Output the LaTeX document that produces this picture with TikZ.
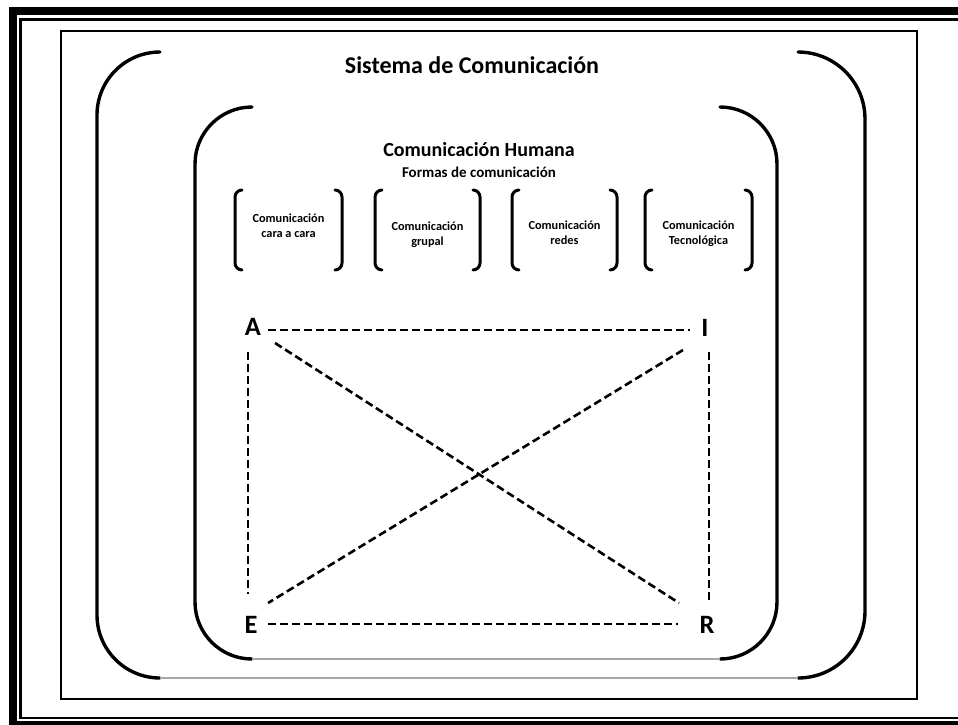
\documentclass[tikz,border=0pt]{standalone}
\usepackage{fontspec}
\setmainfont{Carlito}
\usetikzlibrary{calc}
\begin{document}
\begin{tikzpicture}[x=1pt,y=-1pt,
  frame/.style={line width=8pt},
  thinframe/.style={line width=2.5pt},
  bigbrk/.style={line width=3.4pt, line cap=round, rounded corners=60pt},
  smallbrk/.style={line width=3pt, line cap=round, rounded corners=7pt},
  baseline line/.style={line width=1.2pt, draw=black!35},
  dashline/.style={line width=2.6pt, dash pattern=on 8pt off 4pt},
  boxtext/.style={font=\fontsize{12.3}{15}\selectfont\bfseries, align=center, inner sep=0pt},
  letter/.style={font=\fontsize{26.5}{30}\selectfont\bfseries, inner sep=0pt}]
\useasboundingbox (0,0) rectangle (958,724);
\clip (0,0) rectangle (958,724);
% page frame
\draw[frame] (1100,11) -- (13,11) -- (13,725) -- (1100,725);
\draw[thinframe] (1100,19.5) -- (20.7,19.5) -- (20.7,718) -- (1100,718);
\draw[line width=2pt] (61,31) rectangle (917,699);
% outer bracket shape
\draw[bigbrk, rounded corners=63pt] (160,52) -- (97,52) -- (97,678) -- (160,678);
\draw[bigbrk, rounded corners=67pt] (798,52) -- (865,52) -- (865,678) -- (798,678);
\draw[baseline line] (160,678) -- (798,678);
% inner bracket shape
\draw[bigbrk, rounded corners=57pt] (252,107) -- (195,107) -- (195,659) -- (252,659);
\draw[bigbrk, rounded corners=57pt] (720,107) -- (777,107) -- (777,659) -- (720,659);
\draw[baseline line] (252,659) -- (720,659);
% titles
\node[anchor=base, font=\fontsize{24}{28}\selectfont\bfseries] (sis) at (472,73) {Sistema de Comunicación};
\node[anchor=base, font=\fontsize{20}{24}\selectfont\bfseries] (hum) at (479,156) {Comunicación Humana};
\node[anchor=base, font=\fontsize{15}{18}\selectfont\bfseries] (for) at (479,177) {Formas de comunicación};
% small bracket boxes
\foreach \xl/\xr in {235/342, 375/480, 512/617, 645/752}{
  \draw[smallbrk] (\xl+7,190) -- (\xl,190) -- (\xl,270) -- (\xl+7,270);
  \draw[smallbrk] (\xr-7,190) -- (\xr,190) -- (\xr,270) -- (\xr-7,270);
}
\node[boxtext] (f1) at (288.5,226) {Comunicación\\cara a cara};
\node[boxtext] (f2) at (427.5,235) {Comunicación\\grupal};
\node[boxtext] (f3) at (564.5,233) {Comunicación\\redes};
\node[boxtext] (f4) at (698.5,234) {Comunicación\\Tecnológica};
% letters
\node[letter] (A) at (253,327) {A};
\node[letter] (I) at (705,328) {I};
\node[letter] (E) at (251,625) {E};
\node[letter] (R) at (707,625) {R};
% dashed connectors
\draw[dashline] ($(A)+(15,3)$) -- ($(I)+(-15,2)$);
\draw[dashline] ($(A)+(-5,25)$) -- ($(E)+(-3,-31)$);
\draw[dashline] ($(I)+(4,24)$) -- ($(R)+(2,-22)$);
\draw[dashline] ($(A)+(22,16)$) -- ($(R)+(-28,-22)$);
\draw[dashline] ($(I)+(-22,22)$) -- ($(E)+(17,-22)$);
\draw[dashline] ($(E)+(17,-1)$) -- ($(R)+(-29,-1)$);
\end{tikzpicture}
\end{document}
